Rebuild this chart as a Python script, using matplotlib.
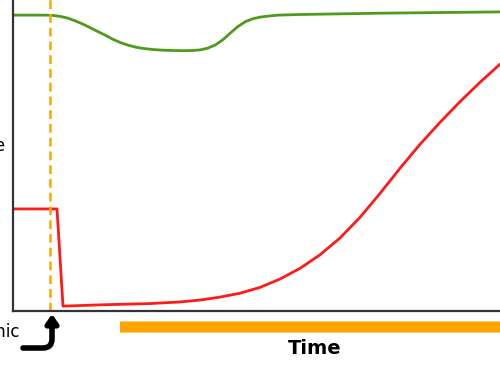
import matplotlib
matplotlib.use("Agg")
import matplotlib.pyplot as plt

# values (time and level both on a 0-100 scale)
green_t = [0, 6.4, 8, 9.5, 11, 12.5, 14, 15.5, 17, 18.5, 20, 21.5, 23, 24.5, 26, 28,
           30, 32, 34, 36, 37.5, 39, 40.5, 42, 43.5, 45, 46.5, 48, 49.5, 51, 53,
           57.4, 73.4, 97.4, 100]
green_v = [91.6, 91.6, 91.5, 91.2, 90.65, 89.8, 88.8, 87.65, 86.5, 85.35, 84.1, 83.1,
           82.3, 81.7, 81.3, 80.95, 80.75, 80.65, 80.6, 80.65, 80.85, 81.4, 82.4, 84.0,
           86.1, 88.1, 89.6, 90.5, 91.0, 91.3, 91.6, 91.8, 92.2, 92.6, 92.6]

red_t = [0, 8.8, 10, 17.4, 27.4, 33.4, 37.4, 41.4, 45.4, 49.4, 53.4, 57.4, 61.4,
         65.4, 69.4, 73.4, 77.4, 81.4, 85.4, 89.4, 93.4, 97.4, 100]
red_v = [31.6, 31.6, 1.5, 1.9, 2.3, 2.8, 3.4, 4.3, 5.5, 7.3, 9.9, 13.2, 17.4,
         22.6, 29.0, 36.4, 44.2, 51.6, 58.4, 64.8, 70.8, 76.4, 79.6]

event_t = 7.4
arrow_start_t = 21.4

fig = plt.figure(figsize=(5, 3.8), dpi=100)
ax = fig.add_axes([13 / 500, 69 / 380, 1.0, 0.85])
ax.set_xlim(0, 100)
ax.set_ylim(0, 100)

ax.plot(green_t, green_v, color="#4f9a1c", lw=2, solid_joinstyle="round")
ax.plot(red_t, red_v, color="#ff1a1a", lw=2, solid_joinstyle="round")
ax.axvline(event_t, color="#ffa500", lw=1.8, ls=(0, (3.5, 2)))

for s in ["top", "right"]:
    ax.spines[s].set_visible(False)
for s in ["left", "bottom"]:
    ax.spines[s].set_color("#333333")
    ax.spines[s].set_linewidth(1.6)
ax.set_xticks([])
ax.set_yticks([])

# orange time arrow below the axis
ax.annotate("", xy=(104, -4.95), xytext=(arrow_start_t, -4.95),
            xycoords="data", annotation_clip=False,
            arrowprops=dict(arrowstyle="-|>,head_length=0.5,head_width=0.5",
                            color="#ffa500", lw=8, shrinkA=0, shrinkB=0,
                            capstyle="butt"))

fig.text(0.63, 1 - 349 / 380, "Time", ha="center", va="center",
         fontsize=14, fontweight="bold")
fig.text(20 / 500, 1 - 332 / 380, "Ischemic", ha="right", va="center", fontsize=12)
fig.text(6 / 500, 1 - 146 / 380, "Amplitude", ha="right", va="center", fontsize=12)

# black bent arrow pointing at the event
plt.annotate("", xy=(52, 380 - 314), xytext=(23, 380 - 348),
             xycoords="figure pixels", textcoords="figure pixels",
             arrowprops=dict(arrowstyle="-|>,head_length=0.5,head_width=0.35",
                             connectionstyle="angle,angleA=0,angleB=90,rad=9",
                             color="black", lw=4, shrinkA=0, shrinkB=0))

fig.savefig("out.png", dpi=100)
